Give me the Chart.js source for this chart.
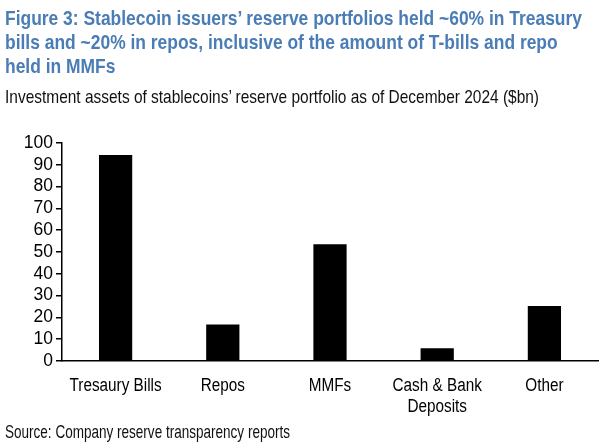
<!DOCTYPE html>
<html>
<head>
<meta charset="utf-8">
<script src="https://cdn.jsdelivr.net/npm/chart.js@4.4.1/dist/chart.umd.min.js"></script>
<style>
  html, body { margin:0; padding:0; background:#fff; }
  body { width:611px; height:448px; position:relative; overflow:hidden; font-family:"Liberation Sans",Arial,sans-serif; }
  .txt { position:absolute; left:5px; white-space:nowrap; transform-origin:0 0; }
  .tl { font-weight:bold; font-size:20.5px; line-height:24px; color:#4a7db5; }
  #t1 { top:5.5px; } #t2 { top:29.5px; } #t3 { top:53.5px; }
  #subtitle { top:86px; font-size:18.5px; line-height:normal; color:#111; }
  #source { top:421.5px; font-size:17.7px; line-height:normal; color:#111; }
  #wrap { position:absolute; left:0; top:0; width:611px; height:448px; }
</style>
</head>
<body>
<div id="wrap"><canvas id="c" width="611" height="448"></canvas></div>
<div class="txt tl" id="t1">Figure 3: Stablecoin issuers’ reserve portfolios held ~60% in Treasury</div>
<div class="txt tl" id="t2">bills and ~20% in repos, inclusive of the amount of T-bills and repo</div>
<div class="txt tl" id="t3">held in MMFs</div>
<div class="txt" id="subtitle">Investment assets of stablecoins’ reserve portfolio as of December 2024 ($bn)</div>
<div class="txt" id="source">Source: Company reserve transparency reports</div>
<script>
const categories = ["Tresaury Bills", "Repos", "MMFs", ["Cash & Bank", "Deposits"], "Other"];
const values = [94.5, 16.8, 53.6, 5.8, 25.2];
const yTicks = [0, 10, 20, 30, 40, 50, 60, 70, 80, 90, 100];

// condense HTML text to the narrow look of the original
function fitWidth(ids, target) {
  const first = document.getElementById(ids[0]);
  const s = target / first.getBoundingClientRect().width;
  ids.forEach(id => { document.getElementById(id).style.transform = 'scaleX(' + s + ')'; });
}
fitWidth(['t1', 't2', 't3'], 577);
fitWidth(['subtitle'], 534);
fitWidth(['source'], 285);

const FONT = '"Liberation Sans",Arial,sans-serif';
const NARROW = 0.85;

function condenseLabels(scale) {
  if (scale._condensed) return;
  scale._condensed = true;
  const orig = scale.drawLabels.bind(scale);
  scale.drawLabels = function (area) {
    const ctx = this.ctx;
    const tr = ctx.translate;
    ctx.translate = function (x, y) { tr.call(ctx, x, y); ctx.scale(NARROW, 1); };
    try { orig(area); } finally { ctx.translate = tr; }
  };
}

new Chart(document.getElementById('c'), {
  type: 'bar',
  data: {
    labels: categories,
    datasets: [{
      data: values,
      backgroundColor: '#000',
      borderWidth: 0,
      barPercentage: 0.31,
      categoryPercentage: 1.0
    }]
  },
  options: {
    responsive: false,
    animation: false,
    events: [],
    layout: { padding: { top: 143, right: 13, left: 0, bottom: 0 } },
    plugins: { legend: { display: false }, tooltip: { enabled: false }, title: { display: false } },
    scales: {
      x: {
        grid: { display: false, drawTicks: false },
        border: { display: true, color: '#000', width: 1.5 },
        ticks: { color: '#000', font: { family: FONT, size: 18 }, padding: 14, maxRotation: 0, autoSkip: false },
        afterFit: (s) => { s.height = 87; },
        afterUpdate: condenseLabels
      },
      y: {
        min: 0, max: 100,
        afterBuildTicks: (s) => { s.ticks = yTicks.map(v => ({ value: v })); },
        grid: { drawOnChartArea: false, drawTicks: true, tickLength: 6, color: '#000', lineWidth: 1.5 },
        border: { display: true, color: '#000', width: 1.5 },
        ticks: { color: '#000', font: { family: FONT, size: 17.5 }, padding: 3, autoSkip: false },
        afterFit: (s) => { s.width = 62; }
      }
    }
  }
});
</script>
</body>
</html>
